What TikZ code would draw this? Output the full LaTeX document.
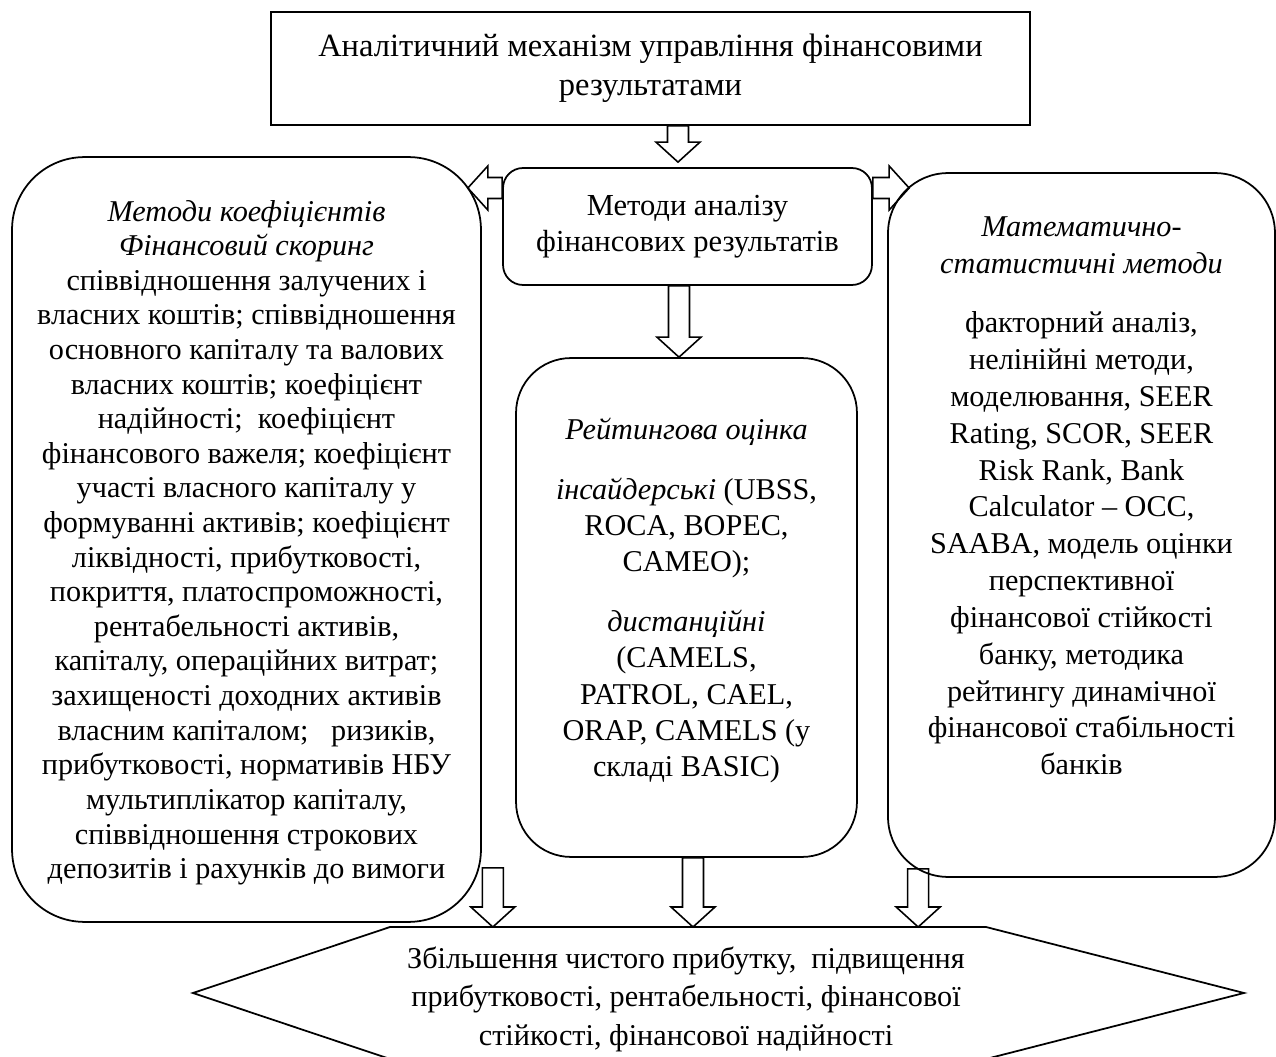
\documentclass[tikz,border=0pt]{standalone}
\usepackage{fontspec}
\setmainfont{Liberation Serif}
\usetikzlibrary{positioning, calc}

\newcommand{\shaftw}{0.21cm}
\newcommand{\headw}{0.44cm}
\newcommand{\headlen}{0.4cm}
% hollow block arrow from #1 to its tip #2 (named coordinates)
\newcommand{\fatarrow}[2]{%
  \coordinate (fah) at ($(#2)!\headlen!(#1)$);
  \draw[blockarrow] ($(#1)!\shaftw!90:(#2)$) -- ($(fah)!\shaftw!-90:(#1)$)
    -- ($(fah)!\headw!-90:(#1)$) -- (#2) -- ($(fah)!\headw!90:(#1)$)
    -- ($(fah)!\shaftw!90:(#1)$) -- ($(#1)!\shaftw!-90:(#2)$) -- cycle;}

\begin{document}
\begin{tikzpicture}[
        x=0.02cm, y=-0.02cm,
        titlebox/.style={rectangle, draw, line width=1pt, minimum width=15.18cm,
                minimum height=2.26cm, align=center, font=\fontsize{18.5}{22.2}\selectfont},
        methbox/.style={rectangle, draw, line width=1pt, rounded corners=0.4cm, minimum width=7.38cm,
                minimum height=2.34cm, align=center, font=\fontsize{17.4}{20.8}\selectfont},
        bigbox/.style={rectangle, draw, line width=1pt},
        boxtext/.style={inner sep=0pt, align=center, font=\fontsize{17.2}{20.6}\selectfont},
        blockarrow/.style={draw, line width=0.9pt, line join=miter},
        hexline/.style={draw, line width=1pt, line join=miter}, ]

        \useasboundingbox (0,0) rectangle (1276,1057);

        % === TOP ===
        \node[titlebox] (title) at (650.5,68.5) {Аналітичний механізм управління фінансовими\\результатами};
        \node[methbox] (methods) at (687.5,226.5) {Методи аналізу\\фінансових результатів};

        % === METHOD GROUPS ===
        \node[bigbox, minimum width=9.38cm, minimum height=15.3cm, rounded corners=1.45cm] (coef) at (246.5,539.5) {};
        \node[boxtext, font=\fontsize{17.2}{19.7}\selectfont, below=0.87cm of coef.north] (coeftext) {%
            \textit{Методи коефіцієнтів}\\
            \textit{Фінансовий скоринг}\\
            співвідношення залучених і\\
            власних коштів; співвідношення\\
            основного капіталу та валових\\
            власних коштів; коефіцієнт\\
            надійності;\ \ коефіцієнт\\
            фінансового важеля; коефіцієнт\\
            участі власного капіталу у\\
            формуванні активів; коефіцієнт\\
            ліквідності, прибутковості,\\
            покриття, платоспроможності,\\
            рентабельності активів,\\
            капіталу, операційних витрат;\\
            захищеності доходних активів\\
            власним капіталом;\ \ \ ризиків,\\
            прибутковості, нормативів НБУ\\
            мультиплікатор капіталу,\\
            співвідношення строкових\\
            депозитів і рахунків до вимоги};

        \node[bigbox, minimum width=6.82cm, minimum height=9.98cm, rounded corners=1.1cm] (rating) at (686.5,607.5) {};
        \node[boxtext, below=1.2cm of rating.north] (ratingtext) {%
            \textit{Рейтингова оцінка}\\[0.48cm]
            \textit{інсайдерські} (UBSS,\\
            ROCA, BOPEC,\\
            CAMEO);\\[0.48cm]
            \textit{дистанційні}\\
            (CAMELS,\\
            PATROL, CAEL,\\
            ORAP, CAMELS (у\\
            складі BASIC)};

        \node[bigbox, minimum width=7.74cm, minimum height=14.08cm, rounded corners=1.2cm] (math) at (1081.5,525) {};
        \node[boxtext, font=\fontsize{17.2}{20.95}\selectfont, below=0.88cm of math.north] (mathtext) {%
            \textit{Математично-}\\
            \textit{статистичні методи}\\[0.46cm]
            факторний аналіз,\\
            нелінійні методи,\\
            моделювання, SEER\\
            Rating, SCOR, SEER\\
            Risk Rank, Bank\\
            Calculator – OCC,\\
            SAABA, модель оцінки\\
            перспективної\\
            фінансової стійкості\\
            банку, методика\\
            рейтингу динамічної\\
            фінансової стабільності\\
            банків};

        % === RESULT ===
        \node[boxtext, font=\fontsize{17.2}{21.9}\selectfont] (result) at (686,999) {%
            Збільшення чистого прибутку,\ \ підвищення\\
            прибутковості, рентабельності, фінансової\\
            стійкості, фінансової надійності};
        \coordinate (hextop) at (390,927);
        \draw[hexline] (193,993) -- (hextop) -- (986,927) -- (1244,993) -- (986,1059) -- (390,1059) -- cycle;

        % === BLOCK ARROWS ===
        \coordinate (a1s) at ($(title.south)+(27.5,0)$);
        \coordinate (a1e) at ($(a1s |- methods.north)+(0,-5)$);
        \fatarrow{a1s}{a1e}

        \coordinate (a2s) at ($(methods.west)+(0,-38.5)$);
        \coordinate (a2e) at ($(a2s -| coef.east)+(-14,0)$);
        \fatarrow{a2s}{a2e}

        \coordinate (a3s) at ($(methods.east)+(0,-38.5)$);
        \coordinate (a3e) at ($(a3s -| math.west)+(22,0)$);
        \fatarrow{a3s}{a3e}

        \coordinate (a4s) at ($(methods.south)+(-8.5,0)$);
        \coordinate (a4e) at (a4s |- rating.north);
        \fatarrow{a4s}{a4e}

        \coordinate (a5s) at ($(coef.south east)+(11,-55)$);
        \coordinate (a5e) at (a5s |- hextop);
        \fatarrow{a5s}{a5e}

        \coordinate (a6s) at ($(rating.south)+(6.5,0)$);
        \coordinate (a6e) at (a6s |- hextop);
        \fatarrow{a6s}{a6e}

        \coordinate (a7s) at ($(math.south west)+(31,-9)$);
        \coordinate (a7e) at (a7s |- hextop);
        \fatarrow{a7s}{a7e}
\end{tikzpicture}
\end{document}
